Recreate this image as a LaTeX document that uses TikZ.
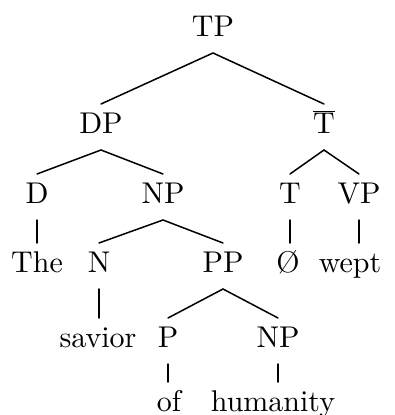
\documentclass[tikz,border=0pt]{standalone}
\usepackage{fontspec}
\setmainfont{lmroman10-regular.otf}
\usetikzlibrary{calc}

\begin{document}
\begin{tikzpicture}[x=1pt,y=-1pt,
  cat/.style={inner sep=0pt,anchor=base,font=\fontsize{30pt}{32pt}\selectfont},
  branch/.style={line width=1.5pt,line cap=round}]
\useasboundingbox (0,0) rectangle (395,415);

\node[cat] (TP) at (213,36) {TP};
\node[cat] (DP) at (101,133) {DP};
\node[cat] (Tbar) at (324,133) {$\overline{\mbox{T}}$};
\node[cat] (D) at (37,203) {D};
\node[cat] (NPa) at (163,203) {NP};
\node[cat] (T) at (290,203) {T};
\node[cat] (VP) at (359,203) {VP};
\node[cat] (The) at (37,272) {The};
\node[cat] (N) at (99,272) {N};
\node[cat] (PP) at (223,272) {PP};
\node[cat] (null) at (288,272) {Ø};
\node[cat] (wept) at (350,272) {wept};
\node[cat] (savior) at (98,347) {savior};
\node[cat] (P) at (168,347) {P};
\node[cat] (NPb) at (278,347) {NP};
\node[cat] (of) at (169,411) {of};
\node[cat] (humanity) at (273,411) {humanity};

% branching
\foreach \a/\b in {TP/DP,TP/Tbar,DP/D,DP/NPa,Tbar/T,Tbar/VP,NPa/N,NPa/PP,PP/P,PP/NPb}
  \draw[branch] ($(\a.base)+(0pt,-17pt)$) -- ($(\b.base)+(0pt,29pt)$);
% unary
\foreach \a/\b in {D/The,T/null,VP/wept,N/savior,P/of,NPb/humanity}
  \draw[branch] ($(\a.base)+(0pt,-17pt)$) -- ($(\a.base |- \b.base)+(0pt,29pt)$);

\end{tikzpicture}
\end{document}
